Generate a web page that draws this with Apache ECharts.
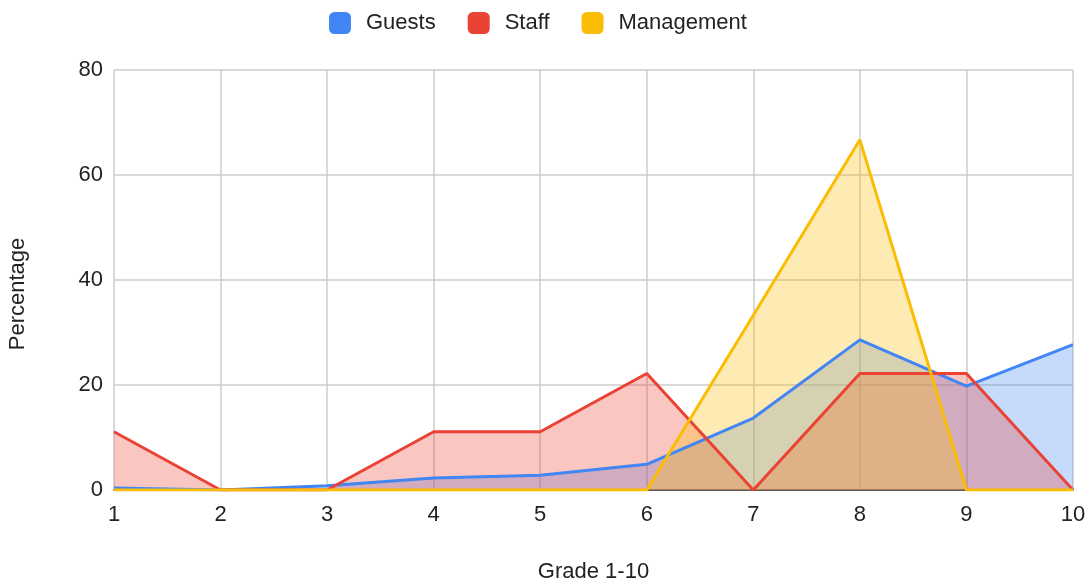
<!DOCTYPE html>
<html>
<head>
<meta charset="utf-8">
<script src="https://cdn.jsdelivr.net/npm/echarts@6/dist/echarts.min.js"></script>
<style>
  html, body { margin: 0; padding: 0; background: #fff; }
  #main { width: 1087px; height: 579px; }
</style>
</head>
<body>
<div id="main"></div>
<script>
// 数据
var grades = ['1', '2', '3', '4', '5', '6', '7', '8', '9', '10'];
var guests = [0.4, 0, 0.8, 2.3, 2.8, 4.9, 13.7, 28.6, 19.8, 27.7];
var staff = [11.1, 0, 0, 11.1, 11.1, 22.2, 0, 22.2, 22.2, 0];
var management = [0, 0, 0, 0, 0, 0, 33.3, 66.7, 0, 0];

var colors = ['#4285f4', '#ea4335', '#fbbc04'];
var font = 'Arial, "Liberation Sans", sans-serif';

function areaSeries(name, data, color) {
  return {
    name: name,
    type: 'line',
    data: data,
    symbol: 'none',
    lineStyle: { color: color, width: 3 },
    itemStyle: { color: color },
    areaStyle: { color: color, opacity: 0.3 }
  };
}

var myChart = echarts.init(document.getElementById('main'));
myChart.setOption({
  animation: false,
  color: colors,
  textStyle: { fontFamily: font },
  legend: {
    top: 7,
    left: 324,
    itemWidth: 22,
    itemHeight: 22,
    itemGap: 32,
    icon: 'roundRect',
    textStyle: { fontSize: 22, color: '#222', fontFamily: font, padding: [0, 0, 0, 10] },
    data: ['Guests', 'Staff', 'Management']
  },
  grid: { left: 114, right: 14, top: 70, bottom: 89, outerBoundsMode: 'none', containLabel: false },
  xAxis: {
    type: 'category',
    data: grades,
    boundaryGap: false,
    name: 'Grade 1-10',
    nameLocation: 'middle',
    nameGap: 71,
    nameTextStyle: { fontSize: 22, color: '#222' },
    axisLine: { lineStyle: { color: '#333', width: 1.5 } },
    axisTick: { show: false },
    axisLabel: { fontSize: 22, color: '#222', margin: 14 },
    splitLine: { show: true, lineStyle: { color: '#ccc', width: 1.5 } }
  },
  yAxis: {
    type: 'value',
    min: 0,
    max: 80,
    interval: 20,
    name: 'Percentage',
    nameLocation: 'middle',
    nameGap: 85,
    nameTextStyle: { fontSize: 22, color: '#222', padding: [0, 28, 0, 0] },
    axisLine: { show: false },
    axisTick: { show: false },
    axisLabel: { fontSize: 22, color: '#222', margin: 11 },
    splitLine: { lineStyle: { color: '#ccc', width: 1.5 } }
  },
  series: [
    areaSeries('Guests', guests, colors[0]),
    areaSeries('Staff', staff, colors[1]),
    areaSeries('Management', management, colors[2])
  ]
});
</script>
</body>
</html>
